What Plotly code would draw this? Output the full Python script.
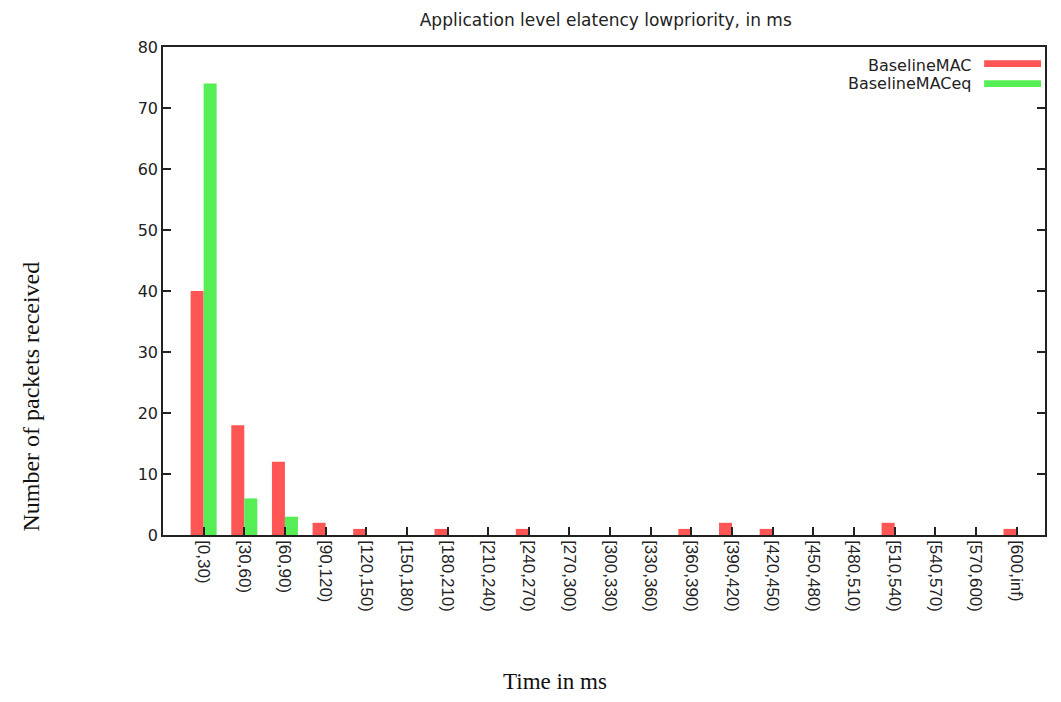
import plotly.graph_objects as go

categories = ["[0,30)", "[30,60)", "[60,90)", "[90,120)", "[120,150)", "[150,180)",
              "[180,210)", "[210,240)", "[240,270)", "[270,300)", "[300,330)",
              "[330,360)", "[360,390)", "[390,420)", "[420,450)", "[450,480)",
              "[480,510)", "[510,540)", "[540,570)", "[570,600)", "[600,inf)"]
baseline_mac = [40, 18, 12, 2, 1, 0, 1, 0, 1, 0, 0, 0, 1, 2, 1, 0, 0, 2, 0, 0, 1]
baseline_mac_eq = [74, 6, 3, 0, 0, 0, 0, 0, 0, 0, 0, 0, 0, 0, 0, 0, 0, 0, 0, 0, 0]
series_names = ["BaselineMAC", "BaselineMACeq"]
colors = ["#ff5555", "#55ee55"]

fig = go.Figure()
fig.add_trace(go.Bar(x=categories, y=baseline_mac, name=series_names[0],
                     marker=dict(color=colors[0], line=dict(width=0)), showlegend=False))
fig.add_trace(go.Bar(x=categories, y=baseline_mac_eq, name=series_names[1],
                     marker=dict(color=colors[1], line=dict(width=0)), showlegend=False))

# manual legend (text right-aligned, swatch on the right like the original)
legend_text_y = [0.963, 0.926]
legend_sw = [(0.959, 0.973), (0.918, 0.932)]
for name, col, ty, (s0, s1) in zip(series_names, colors, legend_text_y, legend_sw):
    fig.add_annotation(xref="paper", yref="paper", x=0.9186, y=ty, text=name,
                       showarrow=False, xanchor="right", yanchor="middle",
                       font=dict(family="DejaVu Sans", size=16, color="#222"))
    fig.add_shape(type="rect", xref="paper", yref="paper",
                  x0=0.931, x1=0.9955, y0=s0, y1=s1,
                  fillcolor=col, line=dict(width=0))

fig.add_annotation(xref="paper", yref="paper", x=0.4446, y=-0.300,
                   text="Time in ms", showarrow=False, xanchor="center", yanchor="middle",
                   font=dict(family="Liberation Serif, Times New Roman", size=23, color="#111"))
fig.add_annotation(xref="paper", yref="paper", x=-0.150, y=0.283,
                   text="Number of packets received", showarrow=False, textangle=-90,
                   xanchor="center", yanchor="middle",
                   font=dict(family="Liberation Serif, Times New Roman", size=24, color="#111"))

fig.update_layout(
    width=1045, height=686,
    margin=dict(l=155, r=6, t=39, b=159),
    paper_bgcolor="white", plot_bgcolor="white",
    barmode="group", bargap=0.36, bargroupgap=0,
    title=dict(text="Application level elatency lowpriority, in ms", x=0.572, xanchor="center",
               y=0.9825, yanchor="middle",
               font=dict(family="DejaVu Sans", size=17, color="#222")),
    font=dict(family="Liberation Sans, Arial", color="#222"),
)
fig.update_xaxes(
    type="category", range=[-1.0, 20.7], tickangle=90,
    ticks="inside", ticklen=8, tickcolor="#222", tickwidth=1.5,
    showline=True, linecolor="#222", linewidth=1.5, mirror=True,
    showgrid=False, tickfont=dict(size=17, family="Liberation Sans, Arial"),
)
fig.update_yaxes(
    range=[0, 80], dtick=10, ticks="inside", ticklen=8, tickcolor="#222", tickwidth=1.5,
    showline=True, linecolor="#222", linewidth=1.5, mirror="ticks",
    showgrid=False, zeroline=False, tickfont=dict(size=16, family="DejaVu Sans"),
)

fig.write_html("out.html")
